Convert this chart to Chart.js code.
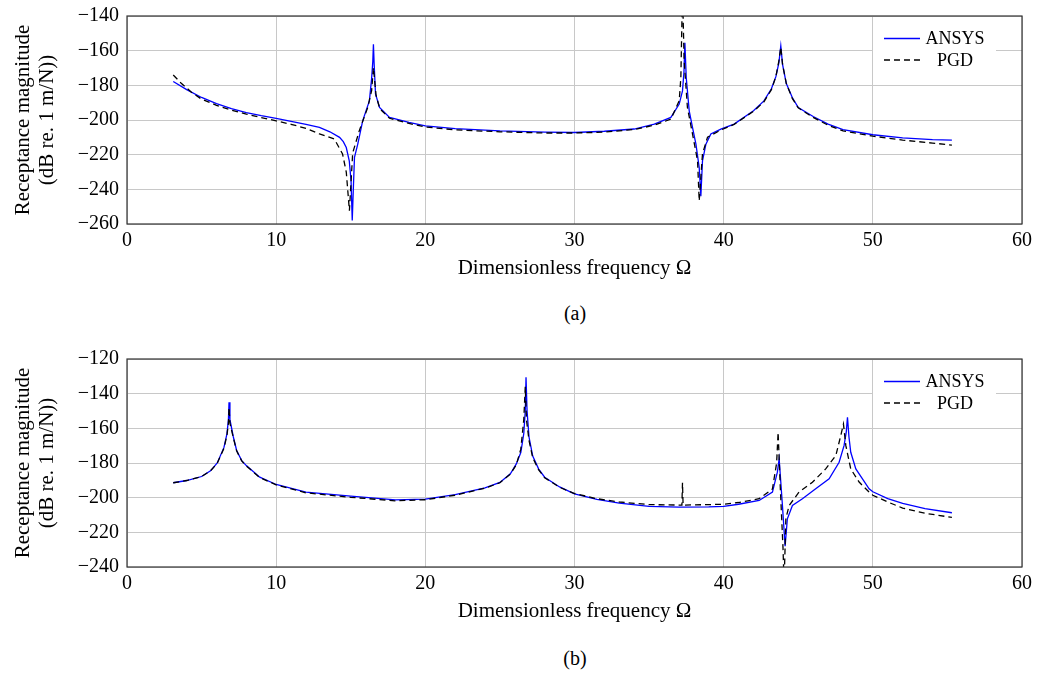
<!DOCTYPE html>
<html lang="en">

<head>
    <meta charset="UTF-8">
    <title>Receptance magnitude</title>
    <script src="https://cdn.jsdelivr.net/npm/chart.js"></script>
    <style>
        body {
            margin: 0;
            background: #fff;
            font-family: 'Liberation Serif', serif;
        }

        .page {
            position: relative;
            width: 1037px;
            height: 675px;
            overflow: hidden;
        }

        canvas {
            position: absolute;
            left: 0;
        }

        .caption {
            position: absolute;
            left: 475px;
            width: 200px;
            text-align: center;
            font-size: 20px;
            line-height: 24px;
        }
    </style>
</head>

<body>
    <div class="page">
        <canvas id="chartA" width="1037" height="294" style="top:-4px"></canvas>
        <div class="caption" style="top:301px">(a)</div>
        <canvas id="chartB" width="1037" height="294" style="top:339px"></canvas>
        <div class="caption" style="top:646px">(b)</div>
    </div>
    <script>
        // [frequency, dB] pairs
        const ansysA = [[3.1, -177.8], [4, -182.5], [5, -187], [6, -190.5], [7, -193.5], [8, -195.8], [9, -197.5],
            [10, -199], [11, -200.8], [12, -202.5], [12.9, -204.3], [13.6, -206.8], [14.25, -210], [14.5, -212.5],
            [14.7, -215.9], [14.9, -223.5], [15.02, -235], [15.1, -258], [15.18, -238], [15.25, -221.6],
            [15.47, -213.9], [15.8, -200.5], [16.05, -194], [16.25, -189], [16.4, -176], [16.48, -166],
            [16.52, -156.3], [16.57, -168], [16.66, -185], [16.93, -192.8], [17.6, -198.5], [18.9, -201.4],
            [20, -203.4], [22, -205], [25, -206.3], [28, -207], [30, -207.2], [32, -206.5], [34, -205.2],
            [35.35, -202.4], [36.46, -198.5], [37.02, -190.8], [37.24, -183.2], [37.34, -172], [37.4, -155.4],
            [37.49, -175.5], [37.69, -194.7], [37.91, -204.3], [38.14, -213.9], [38.36, -227.4], [38.47, -244],
            [38.58, -223.6], [38.81, -213.9], [39.14, -208.1], [39.81, -205.3], [40.7, -202.4], [42, -194.7],
            [42.7, -189], [43.2, -182], [43.5, -175], [43.7, -167], [43.83, -157.3], [43.95, -168], [44.2, -179],
            [44.6, -187], [45, -192.8], [46, -198], [47, -202.4], [48, -205.5], [50, -208.5], [52, -210.3],
            [54, -211.3], [55.3, -211.6]];
        const pgdA = [[3.1, -174], [3.6, -178.5], [4.3, -183.8], [5, -188], [6, -191.5], [7, -194.3], [8, -196.6],
            [9, -198.6], [10, -200.5], [11, -202.5], [12, -204.8], [12.9, -208], [13.9, -211], [14.45, -219.6],
            [14.7, -230], [14.91, -252.3], [15.13, -219], [15.58, -206], [16.13, -193], [16.4, -183],
            [16.52, -169.8], [16.7, -186], [16.95, -193.5], [17.6, -199], [18.9, -202], [20, -204], [22, -205.7],
            [25, -206.8], [28, -207.5], [30, -207.5], [32, -207], [34, -205.5], [35.35, -203], [36.46, -199.5],
            [37.02, -188.9], [37.13, -175.5], [37.24, -125], [37.35, -165.9], [37.57, -192.8], [37.91, -208],
            [38.25, -223.5], [38.36, -246.6], [38.58, -219.5], [38.92, -209.9], [39.81, -205.8], [40.7, -202.5],
            [42, -195], [42.7, -189.5], [43.2, -182.5], [43.5, -175], [43.7, -166], [43.83, -158], [43.95, -168],
            [44.2, -179], [44.6, -187.5], [45, -193], [46, -198.5], [47, -203], [48, -206.3], [50, -209.3],
            [52, -211.6], [54, -213.3], [55.3, -214.5]];

        const ansysB = [[3.1, -191.4], [4, -190.1], [5, -187.8], [5.6, -184.5], [6.05, -180], [6.5, -171],
            [6.7, -163.2], [6.8, -155], [6.84, -145], [6.9, -155], [7.13, -165], [7.35, -172.8], [7.69, -178.6],
            [8, -181.5], [8.9, -188.2], [10, -192.4], [12, -196.8], [15, -199.1], [18, -201.3], [20, -200.8],
            [22, -198.2], [24, -194.3], [25, -191.2], [25.7, -186.2], [26.1, -180.5], [26.4, -174], [26.6, -163],
            [26.7, -150], [26.75, -130.6], [26.82, -150], [26.95, -165], [27.2, -176], [27.6, -183.5],
            [28, -188.2], [29, -193.8], [30, -197.8], [31.5, -201], [33, -203.2], [35, -205], [37, -205.5],
            [39, -205.3], [40, -205], [41, -203.8], [42.38, -201.6], [43.27, -196.8], [43.6, -185.3],
            [43.72, -177.6], [43.94, -204.5], [44.12, -228], [44.27, -212.2], [44.61, -204.5], [45.28, -200.6],
            [46.17, -194.9], [47.07, -189.1], [47.74, -179.6], [48.07, -170], [48.22, -162], [48.3, -153.6],
            [48.4, -165], [48.52, -173.8], [48.86, -183.4], [49.75, -194.9], [50, -196.6], [51, -200.5],
            [52, -203.3], [53.5, -206.3], [55.3, -208.7]];
        const pgdB = [[3.1, -191.4], [4, -190.1], [5, -187.8], [5.6, -184.5], [6.05, -180.2], [6.5, -171.5],
            [6.7, -164], [6.8, -157], [6.84, -148], [6.9, -157], [7.13, -165.5], [7.35, -173], [7.69, -178.8],
            [8, -181.7], [8.9, -188.4], [10, -192.6], [12, -197.2], [15, -199.8], [18, -201.8], [20, -201.2],
            [22, -198.6], [24, -194.5], [25, -191.4], [25.7, -186.4], [26.1, -181], [26.4, -172], [26.6, -155],
            [26.7, -136], [26.78, -155], [26.95, -167], [27.2, -177], [27.6, -184], [28, -188.5], [29, -194],
            [30, -197.6], [31.5, -200.6], [33, -202.5], [35, -204], [37.2, -204.3], [37.24, -191.4],
            [37.28, -204.3], [39, -204], [40, -203.8], [41, -202.8], [42.38, -200.6], [43.27, -195],
            [43.55, -180], [43.65, -162.3], [43.8, -195], [43.98, -229.4], [44.05, -250], [44.17, -212],
            [44.39, -204.5], [45.05, -196.8], [45.95, -191.1], [46.84, -183.4], [47.52, -175.7], [47.85, -164.2],
            [48.03, -157.5], [48.19, -170], [48.52, -183.4], [49.08, -191], [49.75, -196.8], [50, -198.6],
            [51, -202.5], [52, -206], [53.5, -209], [55.3, -211.4]];

        const xTicks = [0, 10, 20, 30, 40, 50, 60];
        const yRangeA = [-260, -140];
        const yRangeB = [-240, -120];

        const serif = "'Liberation Serif', 'Times New Roman', serif";

        // box around the plot area + legend in the top right corner
        const framePlugin = {
            id: 'frame',
            afterDraw(chart) {
                const { ctx, chartArea: a } = chart;
                ctx.save();
                const lx = a.right - 149, ly = a.top + 4;
                ctx.fillStyle = '#fff';
                ctx.fillRect(lx, ly, 123, 56);
                const rows = [0, 1];
                rows.forEach(i => {
                    const ds = chart.data.datasets[i];
                    const y = a.top + 22.5 + i * 21.5;
                    ctx.beginPath();
                    ctx.strokeStyle = ds.borderColor;
                    ctx.lineWidth = ds.borderWidth;
                    ctx.setLineDash(ds.borderDash || []);
                    ctx.moveTo(lx + 11, y);
                    ctx.lineTo(lx + 47, y);
                    ctx.stroke();
                    ctx.setLineDash([]);
                    ctx.fillStyle = '#000';
                    ctx.font = '18px ' + serif;
                    ctx.textAlign = 'center';
                    ctx.textBaseline = 'middle';
                    ctx.fillText(ds.label, lx + 82, y + 1);
                });
                ctx.strokeStyle = '#333';
                ctx.lineWidth = 1.2;
                ctx.strokeRect(a.left, a.top, a.right - a.left, a.bottom - a.top);
                ctx.restore();
            }
        };

        function makeChart(id, ansys, pgd, yRange) {
            const toXY = arr => arr.map(p => ({ x: p[0], y: p[1] }));
            return new Chart(document.getElementById(id), {
                type: 'line',
                data: {
                    datasets: [
                        {
                            label: 'ANSYS', data: toXY(ansys), borderColor: '#0000ff', borderWidth: 1.3,
                            pointRadius: 0, tension: 0, order: 1
                        },
                        {
                            label: 'PGD', data: toXY(pgd), borderColor: '#000000', borderWidth: 1.3,
                            borderDash: [6, 4], pointRadius: 0, tension: 0, order: 0
                        }
                    ]
                },
                options: {
                    responsive: false,
                    animation: false,
                    layout: { padding: { top: 11, right: 14, left: 0, bottom: 0 } },
                    plugins: { legend: { display: false }, tooltip: { enabled: false } },
                    scales: {
                        x: {
                            type: 'linear',
                            min: xTicks[0],
                            max: xTicks[xTicks.length - 1],
                            afterBuildTicks: s => { s.ticks = xTicks.map(v => ({ value: v })); },
                            afterFit: s => { s.height = 66; },
                            border: { display: false },
                            grid: { color: '#c8c8c8', lineWidth: 1, drawTicks: false },
                            ticks: { color: '#000', padding: 5, font: { family: serif, size: 20 } },
                            title: {
                                display: true, text: 'Dimensionless frequency \u03a9', color: '#000',
                                font: { family: serif, size: 21 }, padding: { top: 0, bottom: 9 }
                            }
                        },
                        y: {
                            min: yRange[0],
                            max: yRange[1],
                            afterFit: s => { s.width = 127; },
                            border: { display: false },
                            grid: { color: '#c8c8c8', lineWidth: 1, drawTicks: false },
                            ticks: {
                                stepSize: 20, color: '#000', padding: 8, font: { family: serif, size: 20 },
                                callback: v => String(v).replace('-', '\u2212')
                            },
                            title: {
                                display: true, text: ['Receptance magnitude', '(dB re. 1 m/N))'], color: '#000',
                                font: { family: serif, size: 21, lineHeight: 1.15 }, padding: { top: 11, bottom: 0 }
                            }
                        }
                    }
                },
                plugins: [framePlugin]
            });
        }

        makeChart('chartA', ansysA, pgdA, yRangeA);
        makeChart('chartB', ansysB, pgdB, yRangeB);
    </script>
</body>

</html>
